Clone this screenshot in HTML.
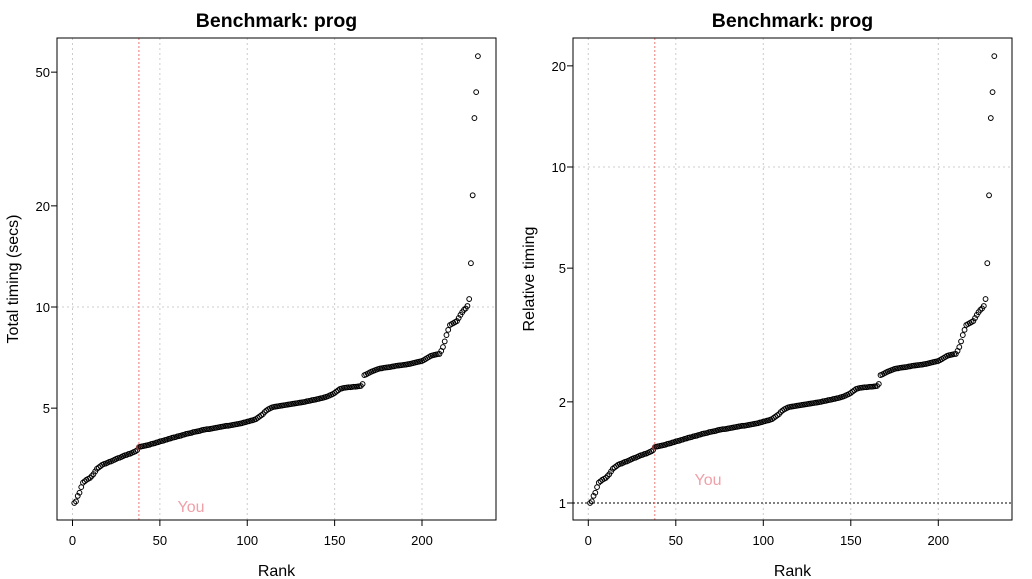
<!DOCTYPE html>
<html><head><meta charset="utf-8"><style>
body{margin:0;background:#fff;}
svg{display:block;font-family:"Liberation Sans",Arial,sans-serif;}
</style></head><body>
<svg id="chart" width="1032" height="579"></svg>
<script>
const timings = [2.61,2.64,2.74,2.80,2.91,3.00,3.03,3.06,3.08,3.10,
3.14,3.18,3.24,3.30,3.33,3.36,3.39,3.41,3.42,3.44,
3.46,3.47,3.49,3.51,3.53,3.55,3.56,3.58,3.60,3.62,
3.63,3.65,3.66,3.68,3.70,3.72,3.75,3.83,
3.84,3.85,3.86,3.87,3.88,3.89,3.91,
3.92,3.93,3.95,3.96,3.98,3.99,4.00,4.02,4.03,4.05,
4.06,4.08,4.09,4.10,4.12,4.13,4.14,4.16,4.17,4.19,
4.20,4.21,4.22,4.24,4.25,4.26,4.27,4.28,4.30,4.31,
4.32,4.33,4.33,4.34,4.35,4.36,4.37,4.38,4.39,4.40,
4.41,4.42,4.43,4.43,4.44,4.45,4.46,4.47,4.48,4.49,
4.50,4.51,4.53,4.54,4.56,4.57,4.59,4.60,4.62,4.64,
4.68,4.72,4.76,4.80,4.87,4.92,4.96,4.99,5.02,5.04,
5.05,5.06,5.07,5.08,5.09,5.10,5.11,5.12,5.13,5.14,
5.15,5.16,5.17,5.18,5.19,5.20,5.21,5.22,5.24,5.25,
5.26,5.28,5.29,5.30,5.32,5.33,5.35,5.36,5.38,5.40,
5.42,5.45,5.48,5.51,5.55,5.60,5.65,5.70,5.72,5.74,
5.75,5.76,5.77,5.77,5.78,5.79,5.79,5.80,5.81,5.82,5.90,
6.27,6.30,6.34,6.38,6.42,6.45,6.48,6.51,6.54,
6.56,6.57,6.59,6.60,6.61,6.62,6.63,6.65,6.66,6.68,
6.69,6.70,6.71,6.72,6.73,6.74,6.76,6.77,6.79,6.81,
6.83,6.85,6.87,6.89,6.91,6.95,7.00,7.05,7.10,7.15,
7.18,7.20,7.22,7.24,7.25,7.40,
7.60,7.90,8.25,8.55,8.84,8.90,8.96,9.02,9.08,9.27,9.47,9.65,9.80,9.90,10.07,
10.56,13.5,21.5,36.5,43.6,55.8];
const youRank = 38;
const xTicks = [0,50,100,150,200];
const leftYTicks = [5,10,20,50];
const rightYTicks = [1,2,5,10,20];

const NS="http://www.w3.org/2000/svg";
const svg=document.getElementById('chart');
function mk(tag,attrs,parent){const e=document.createElementNS(NS,tag);for(const k in attrs)e.setAttribute(k,attrs[k]);(parent||svg).appendChild(e);return e;}

const base = timings[0];
const panels=[
 {key:'left', box:[57,38,496,520], x0:72.5, xs:1.7475, yf:v=>643-336*Math.log10(v), vals:timings, ticks:leftYTicks, grid:[10], ylab:'Total timing (secs)', ylx:13, you:[191,506], ref:null},
 {key:'right', box:[573,38,1012,520], x0:588.3, xs:1.75, yf:v=>503-336*Math.log10(v), vals:timings.map(t=>t/base), ticks:rightYTicks, grid:[10], ylab:'Relative timing', ylx:529, you:[708,479], ref:1}
];
panels.forEach(p=>{
 const g=mk('g',{});
 
 
 const [L,T,R,B]=p.box; const cx=(L+R)/2;
 const xf=r=>p.x0+p.xs*r;
 const t=mk('text',{x:cx,y:27,'text-anchor':'middle','font-size':19.5,'font-weight':'bold',fill:'#000'},g);
 t.textContent='Benchmark: prog';
 
 
 xTicks.forEach(v=>{
  const gl=mk('line',{x1:xf(v),x2:xf(v),y1:T,y2:B,stroke:'#ccc','stroke-dasharray':'2,3','stroke-width':1},g);
  
  
  mk('line',{x1:xf(v),x2:xf(v),y1:B,y2:B+6,stroke:'#000'},g);
  const tl=mk('text',{x:xf(v),y:B+25,'text-anchor':'middle','font-size':13,fill:'#000'},g);
  tl.textContent=v;
  
  
 });
 p.grid.forEach(v=>{
  const gl=mk('line',{x1:L,x2:R,y1:p.yf(v),y2:p.yf(v),stroke:'#ccc','stroke-dasharray':'2,3'},g);
  
  
 });
 p.ticks.forEach(v=>{
  const y=p.yf(v);
  mk('line',{x1:L-6,x2:L,y1:y,y2:y,stroke:'#000'},g);
  const tl=mk('text',{x:L-7,y:y+5,'text-anchor':'end','font-size':13,fill:'#000'},g);
  tl.textContent=v;
  
  
 });
 if(p.ref!==null){
  const rl=mk('line',{x1:L,x2:R,y1:p.yf(p.ref),y2:p.yf(p.ref),stroke:'#000','stroke-dasharray':'2,2'},g);
  
  
 }
 const yl=mk('line',{x1:xf(youRank),x2:xf(youRank),y1:T,y2:B,stroke:'#e77','stroke-dasharray':'2,2'},g);
 
 
 const yt=mk('text',{x:p.you[0],y:p.you[1]+6,'text-anchor':'middle','font-size':16,fill:'#f0a0a8'},g);
 yt.textContent='You';
 
 
 p.vals.forEach((v,i)=>{
  const r=i+1; const isYou=r===youRank;
  const c=mk('circle',{cx:xf(r),cy:p.yf(v),r:2.4,fill:isYou?'#8b3a3a':'none',stroke:isYou?'#8b3a3a':'#000','stroke-width':1},g);
  
  
 });
 const fr=mk('rect',{x:L,y:T,width:R-L,height:B-T,fill:'none',stroke:'#000','stroke-width':1},g);
 
 
 const xl=mk('text',{x:cx,y:576,'text-anchor':'middle','font-size':16,fill:'#000'},g);
 xl.textContent='Rank';
 
 
 const ylab=mk('text',{x:p.ylx,y:279,'text-anchor':'middle','font-size':16,fill:'#000',transform:`rotate(-90 ${p.ylx} 279)`,dy:5},g);
 ylab.textContent=p.ylab;
 
 
});
</script>
</body></html>
